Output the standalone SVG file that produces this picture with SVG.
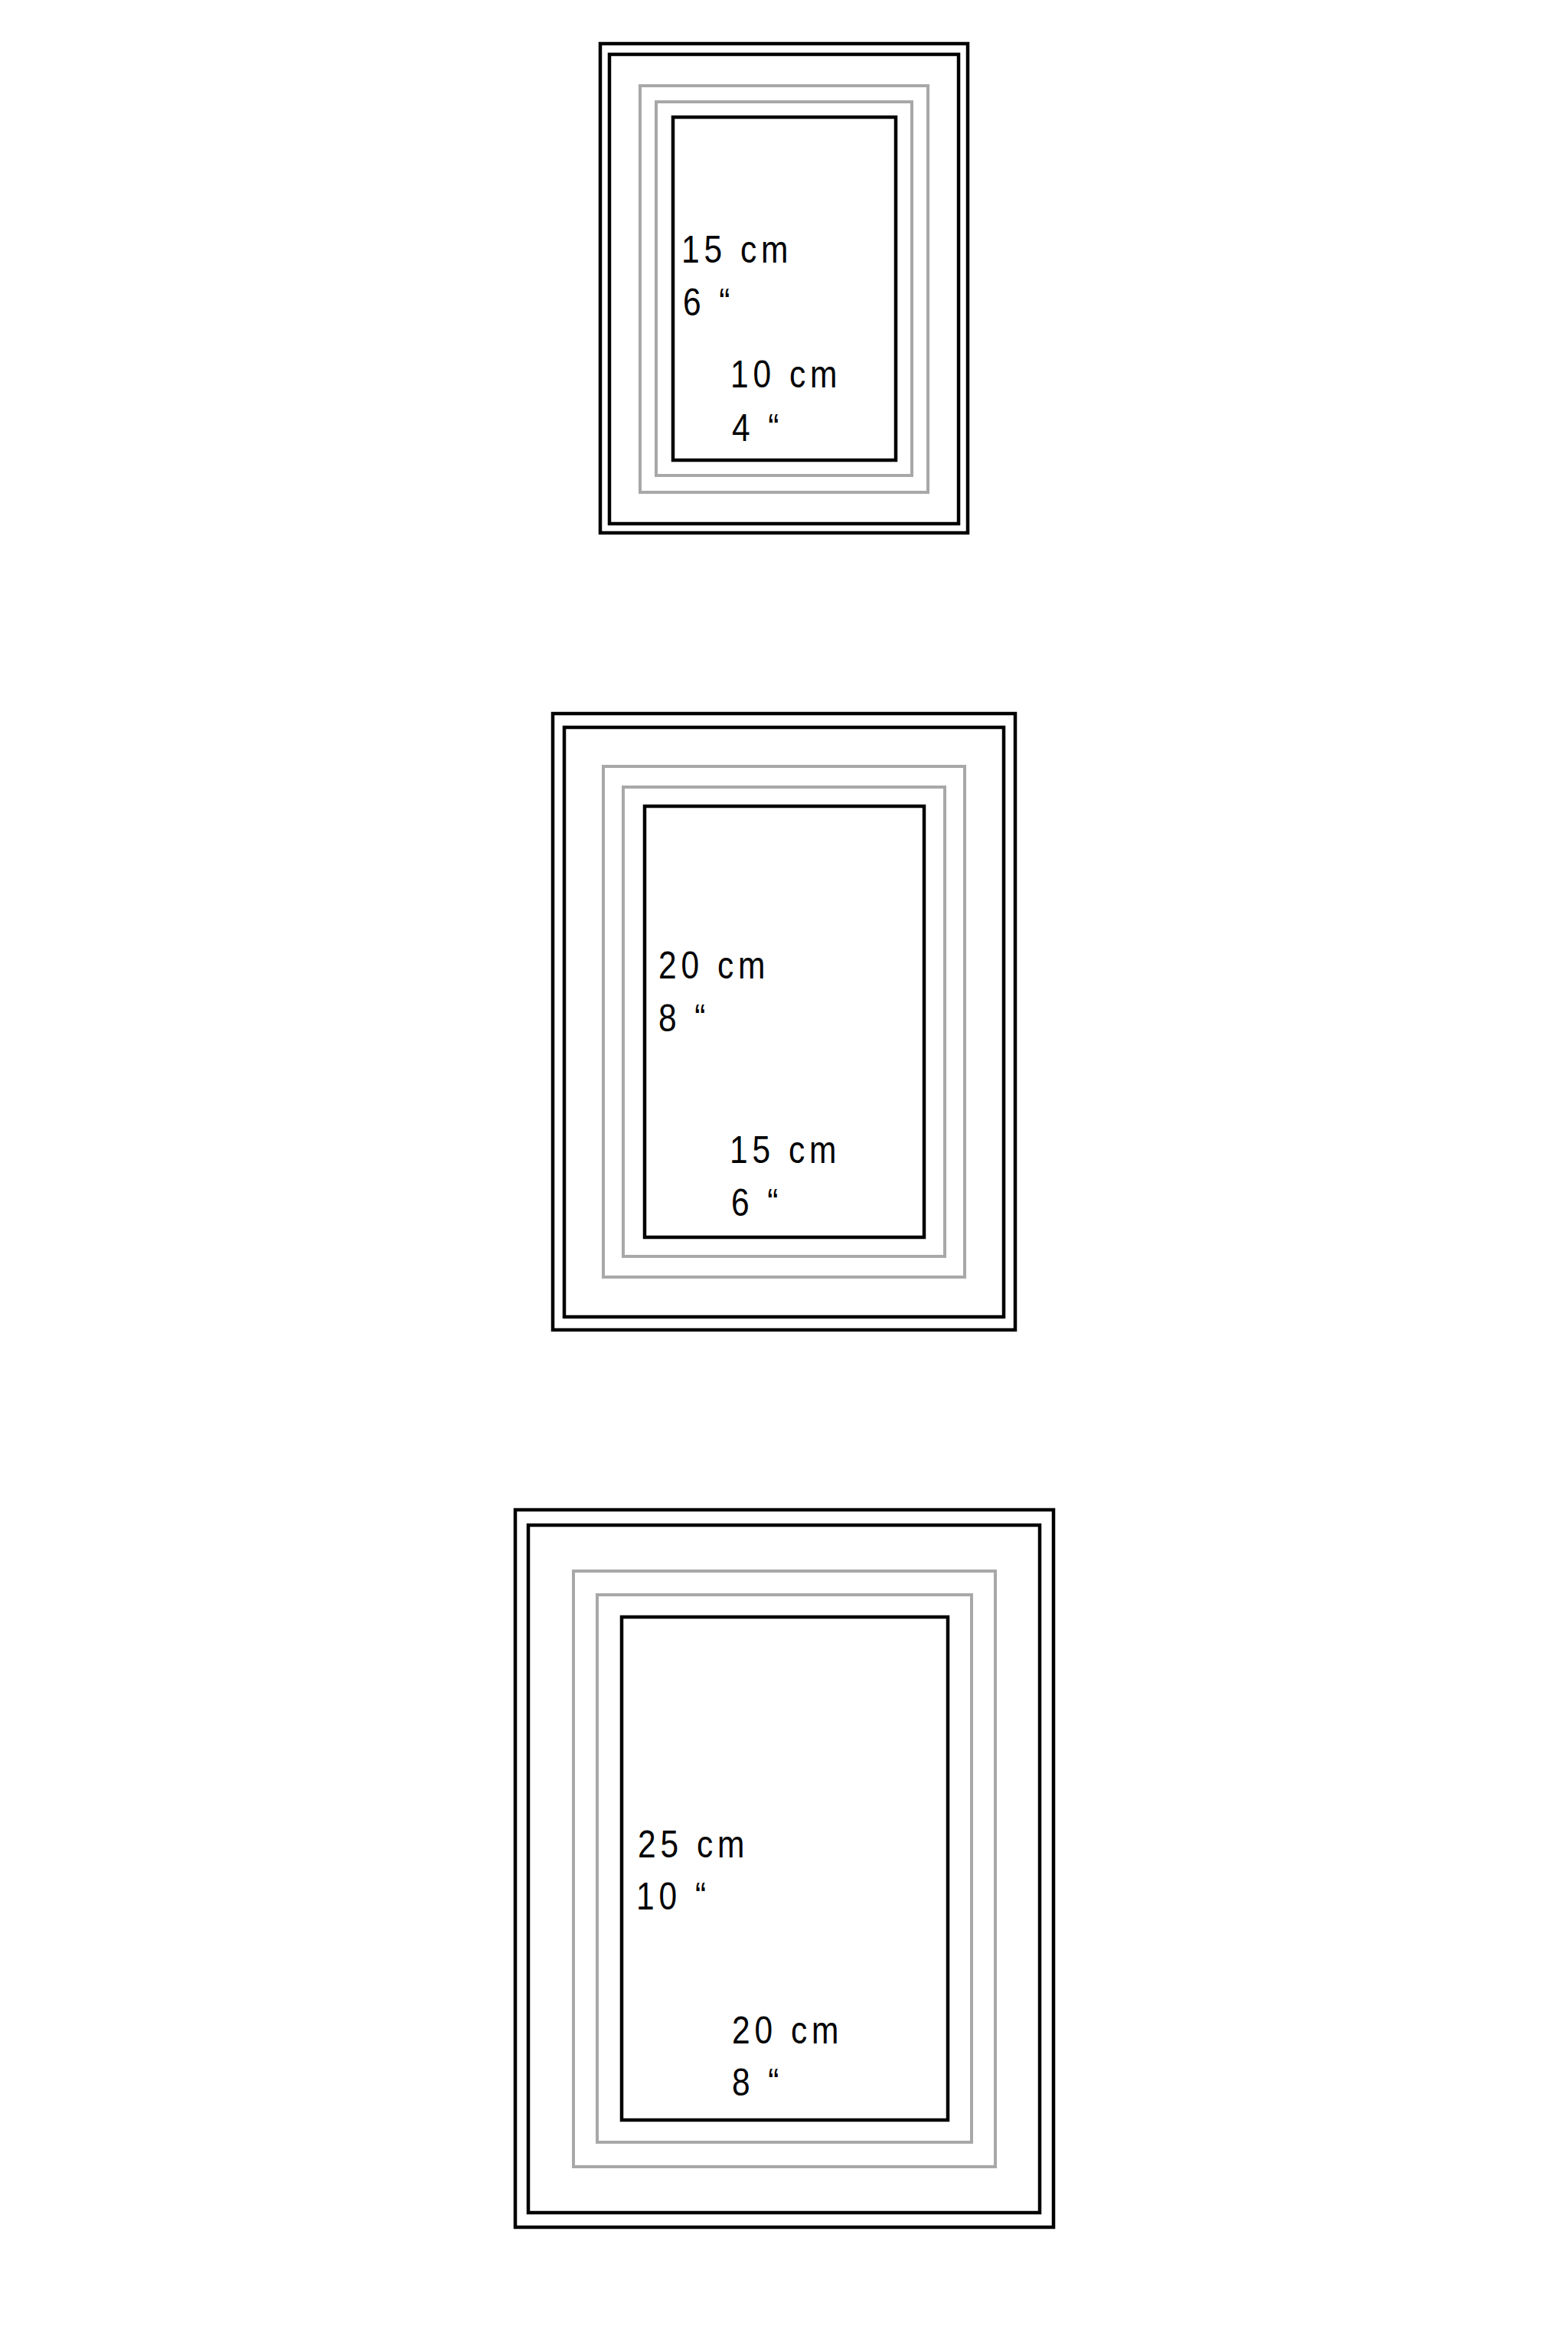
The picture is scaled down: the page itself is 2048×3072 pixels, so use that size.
<svg xmlns="http://www.w3.org/2000/svg" width="2048" height="3072" viewBox="0 0 2048 3072">
<style>
.k{fill:none;stroke:#000;stroke-width:4.5}
.g{fill:none;stroke:#a8a8a8;stroke-width:4}
.t{font-family:"Liberation Sans",Arial,sans-serif;font-size:50px;letter-spacing:7px;fill:#000}
</style>
<rect width="2048" height="3072" fill="#fff"/>
<g id="frame-small">
<rect class="k" x="784" y="57" width="480" height="639"/>
<rect class="k" x="796" y="71" width="456" height="613"/>
<rect class="g" x="836" y="112" width="376" height="531"/>
<rect class="g" x="857" y="133" width="334" height="488"/>
<rect class="k" x="879" y="153" width="291" height="448"/>
<text class="t" transform="translate(890,343) scale(0.85,1)">15 cm</text>
<text class="t" transform="translate(892,412) scale(0.85,1)">6 “</text>
<text class="t" transform="translate(954,506) scale(0.85,1)">10 cm</text>
<text class="t" transform="translate(956,576) scale(0.85,1)">4 “</text>
</g>
<g id="frame-medium">
<rect class="k" x="722" y="932" width="604" height="805"/>
<rect class="k" x="737" y="950" width="574" height="770"/>
<rect class="g" x="788" y="1001" width="472" height="667"/>
<rect class="g" x="814" y="1028" width="420" height="613"/>
<rect class="k" x="842" y="1053" width="365" height="563"/>
<text class="t" transform="translate(860,1278) scale(0.85,1)">20 cm</text>
<text class="t" transform="translate(860,1347) scale(0.85,1)">8 “</text>
<text class="t" transform="translate(953,1519) scale(0.85,1)">15 cm</text>
<text class="t" transform="translate(955,1588) scale(0.85,1)">6 “</text>
</g>
<g id="frame-large">
<rect class="k" x="673" y="1972" width="703" height="937"/>
<rect class="k" x="690" y="1992" width="668" height="898"/>
<rect class="g" x="749" y="2052" width="551" height="778"/>
<rect class="g" x="780" y="2083" width="489" height="715"/>
<rect class="k" x="812" y="2112" width="426" height="657"/>
<text class="t" transform="translate(833,2426) scale(0.85,1)">25 cm</text>
<text class="t" transform="translate(831,2494) scale(0.85,1)">10 “</text>
<text class="t" transform="translate(956,2669) scale(0.85,1)">20 cm</text>
<text class="t" transform="translate(956,2737) scale(0.85,1)">8 “</text>
</g>
</svg>
